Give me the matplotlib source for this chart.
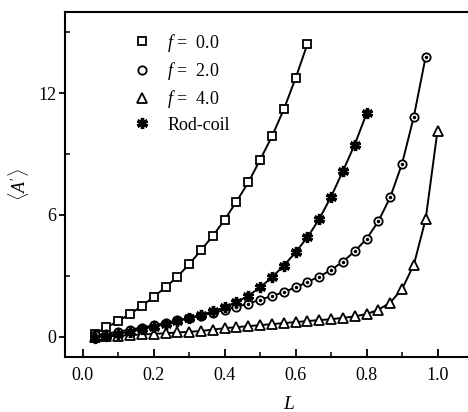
import matplotlib
matplotlib.use('Agg')
import matplotlib.pyplot as plt
from matplotlib.lines import Line2D
import numpy as np

#====Data====
L_f0 = [k/30 for k in range(1, 20)]
A_f0 = [0.12, 0.46, 0.77, 1.12, 1.51, 1.97, 2.43, 2.96, 3.57, 4.26,
        4.97, 5.76, 6.66, 7.60, 8.72, 9.87, 11.2, 12.74, 14.42]

L_f2 = [k/30 for k in range(1, 30)]
A_f2 = [0.08, 0.15, 0.25, 0.35, 0.45, 0.56, 0.68, 0.80, 0.92, 1.04,
        1.17, 1.32, 1.48, 1.62, 1.83, 2.00, 2.20, 2.43, 2.70, 2.96,
        3.29, 3.70, 4.21, 4.82, 5.69, 6.87, 8.52, 10.85, 13.8]

L_f4 = [k/30 for k in range(1, 31)]
A_f4 = [0.00, 0.02, 0.05, 0.08, 0.11, 0.14, 0.17, 0.21, 0.24, 0.28,
        0.35, 0.42, 0.47, 0.52, 0.57, 0.62, 0.67, 0.72, 0.77, 0.82,
        0.86, 0.93, 1.00, 1.12, 1.33, 1.68, 2.35, 3.55, 5.80, 10.16]

L_rc = [k/30 for k in range(1, 25)]
A_rc = [-0.05, 0.05, 0.15, 0.25, 0.37, 0.50, 0.63, 0.77, 0.92, 1.08,
        1.25, 1.45, 1.70, 2.02, 2.43, 2.93, 3.50, 4.16, 4.90, 5.80,
        6.90, 8.16, 9.47, 11.0]

labels = ['$f$ =  0.0', '$f$ =  2.0', '$f$ =  4.0', 'Rod-coil']

#====Style====
plt.rcParams['font.family'] = 'Liberation Serif'
plt.rcParams['mathtext.fontset'] = 'custom'
plt.rcParams['mathtext.it'] = 'Liberation Serif:italic'
plt.rcParams['mathtext.rm'] = 'Liberation Serif'

fig = plt.figure(figsize=(4.68, 4.12), dpi=100)
ax = fig.add_axes([65/468, (412-357)/412, 408/468, 345/412])

lw = 1.4
sq = dict(marker='s', ms=5.5, mfc='white', mec='k', mew=1.3)
ci = dict(marker='o', ms=6, mfc='white', mec='k', mew=1.3)
tr = dict(marker='^', ms=6.5, mfc='white', mec='k', mew=1.3)
rc = dict(marker=(6, 2, 0), ms=8, mec='k', mew=2.4)

ax.plot(L_f0, A_f0, 'k-', lw=lw, **sq)
ax.plot(L_f2, A_f2, 'k-', lw=lw, **ci)
ax.plot(L_f2, A_f2, ls='none', marker='o', ms=1.5, color='k')
ax.plot(L_f4, A_f4, 'k-', lw=lw, **tr)
ax.plot(L_rc, A_rc, 'k-', lw=lw, **rc)

ax.set_xlim(-0.05, 1.1)
ax.set_ylim(-1, 16)
ax.set_xticks([0.0, 0.2, 0.4, 0.6, 0.8, 1.0])
ax.set_xticks(np.arange(0.1, 1.0, 0.2), minor=True)
ax.set_xticklabels(['0.0', '0.2', '0.4', '0.6', '0.8', '1.0'])
ax.set_yticks([0, 6, 12])
ax.set_yticks([3, 9, 15], minor=True)
ax.tick_params(axis='both', which='major', direction='in', length=6, width=1.3,
               labelsize=13, pad=7)
ax.tick_params(axis='both', which='minor', direction='in', length=3.5, width=1.1)
ax.tick_params(axis='y', which='major', direction='out', length=4, pad=2)
for s in ax.spines.values():
    s.set_linewidth(1.5)

ax.set_xlabel('$L$', fontsize=14)
ax.xaxis.set_label_coords(0.549, -0.113)
ax.set_ylabel(r'$\langle A^{\prime}\rangle$', fontsize=13)
ax.yaxis.set_label_coords(-0.084, 0.5)

# legend: markers only
handles = [Line2D([], [], ls='none', color='k', **sq),
           Line2D([], [], ls='none', color='k', **ci),
           Line2D([], [], ls='none', color='k', **tr),
           Line2D([], [], ls='none', color='k', **rc)]
ax.legend(handles, labels, loc='upper left', bbox_to_anchor=(0.127, 0.99),
          frameon=False, fontsize=13, handlelength=1.0, handletextpad=0.9,
          labelspacing=0.35, numpoints=1)

fig.savefig('out.png', dpi=100)
